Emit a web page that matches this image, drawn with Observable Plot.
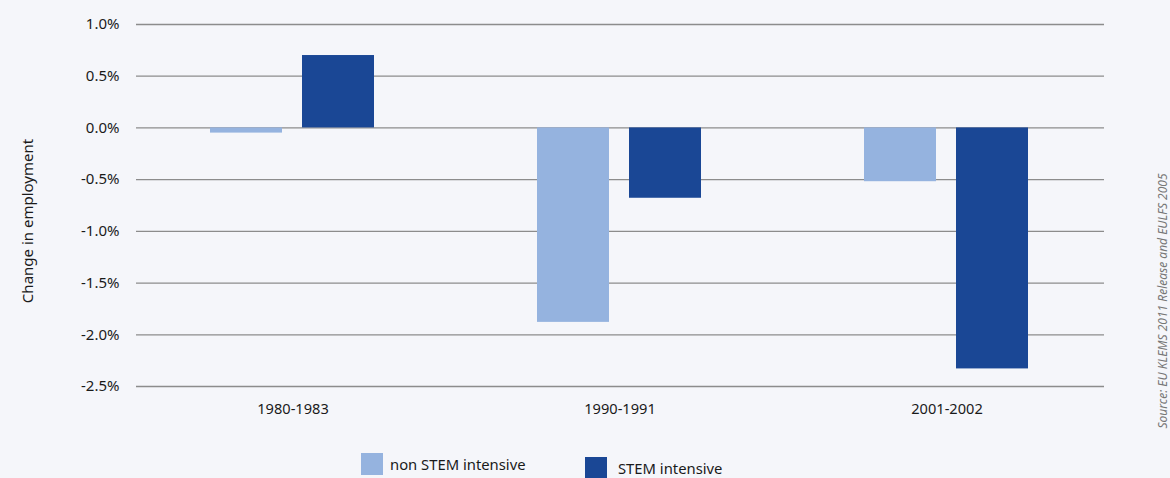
<!DOCTYPE html>
<html>
<head>
<meta charset="utf-8">
<script src="https://cdn.jsdelivr.net/npm/d3@7"></script>
<script src="https://cdn.jsdelivr.net/npm/@observablehq/plot@0.6"></script>
<style>
  html, body { margin: 0; padding: 0; background: #f5f6fa; }
  #wrap { position: relative; width: 1170px; height: 478px; background: #f5f6fa; overflow: hidden; font-family: "Noto Sans", "Open Sans", sans-serif; color: #1a1a1a; }
  #chart { position: absolute; left: 0; top: 0; }
  .ylab { position: absolute; left: 27px; top: 221px; transform: translate(-50%, -50%) rotate(-90deg); white-space: nowrap; font-size: 15px; }
  .src { position: absolute; left: 1162px; top: 301px; transform: translate(-50%, -50%) rotate(-90deg); white-space: nowrap; font-size: 12px; font-style: italic; color: #777; }
  .leg { position: absolute; display: flex; align-items: center; font-size: 14.8px; }
  .sw { width: 22px; height: 22px; margin-right: 7px; }
</style>
</head>
<body>
<div id="wrap">
  <div id="chart"></div>
  <div class="ylab">Change in employment</div>
  <div class="src">Source: EU KLEMS 2011 Release and EULFS 2005</div>
  <div id="legend"></div>
</div>
<script>
const periods = ["1980-1983", "1990-1991", "2001-2002"];
const seriesNames = ["non STEM intensive", "STEM intensive"];
const nonStem = [-0.05, -1.88, -0.52];
const stem = [0.70, -0.68, -2.33];
const colors = ["#95b3df", "#1a4795"];
const yTicks = [1.0, 0.5, 0.0, -0.5, -1.0, -1.5, -2.0, -2.5];

const rows = [];
periods.forEach((p, i) => {
  rows.push({period: p, series: seriesNames[0], value: nonStem[i]});
  rows.push({period: p, series: seriesNames[1], value: stem[i]});
});

const gridStyle = {stroke: "#8c8c8c", strokeWidth: 1.3};
const gridFor = (p, opts) => Plot.ruleY(yTicks, {y: d => d, fx: yTicks.map(() => p), ...gridStyle, ...opts});

const chart = Plot.plot({
  width: 1170,
  height: 420,
  marginTop: 24,
  marginBottom: 34,
  marginLeft: 128,
  marginRight: 59,
  style: {background: "transparent", fontFamily: "Noto Sans, Open Sans, sans-serif", fontSize: "15px", color: "#1a1a1a"},
  fx: {domain: periods, padding: 0, label: null},
  x: {domain: seriesNames, paddingInner: 0.217, paddingOuter: 0.88, axis: null},
  y: {domain: [-2.5, 1.0], ticks: yTicks, label: null},
  color: {domain: seriesNames, range: colors},
  marks: [
    gridFor(periods[0], {insetLeft: 7}),
    gridFor(periods[1], {}),
    gridFor(periods[2], {insetRight: 6}),
    Plot.barY(rows, {fx: "period", x: "series", y: "value", fill: "series"}),
    Plot.axisY(yTicks, {tickSize: 0, tickPadding: 10, tickFormat: d => d.toFixed(1) + "%", fontSize: 15}),
    Plot.axisFx({anchor: "bottom", tickSize: 0, tickPadding: 17, fontSize: 14.6, label: null})
  ]
});
document.getElementById("chart").appendChild(chart);

const legend = document.getElementById("legend");
const legPos = [361, 585];
seriesNames.forEach((s, i) => {
  const d = document.createElement("div");
  d.className = "leg";
  d.style.left = legPos[i] + "px";
  d.style.top = (i === 0 ? 453 : 457) + "px";
  d.innerHTML = `<div class="sw" style="background:${colors[i]};${i===1?'margin-right:11px':''}"></div><span>${s}</span>`;
  legend.appendChild(d);
});
</script>
</body>
</html>
